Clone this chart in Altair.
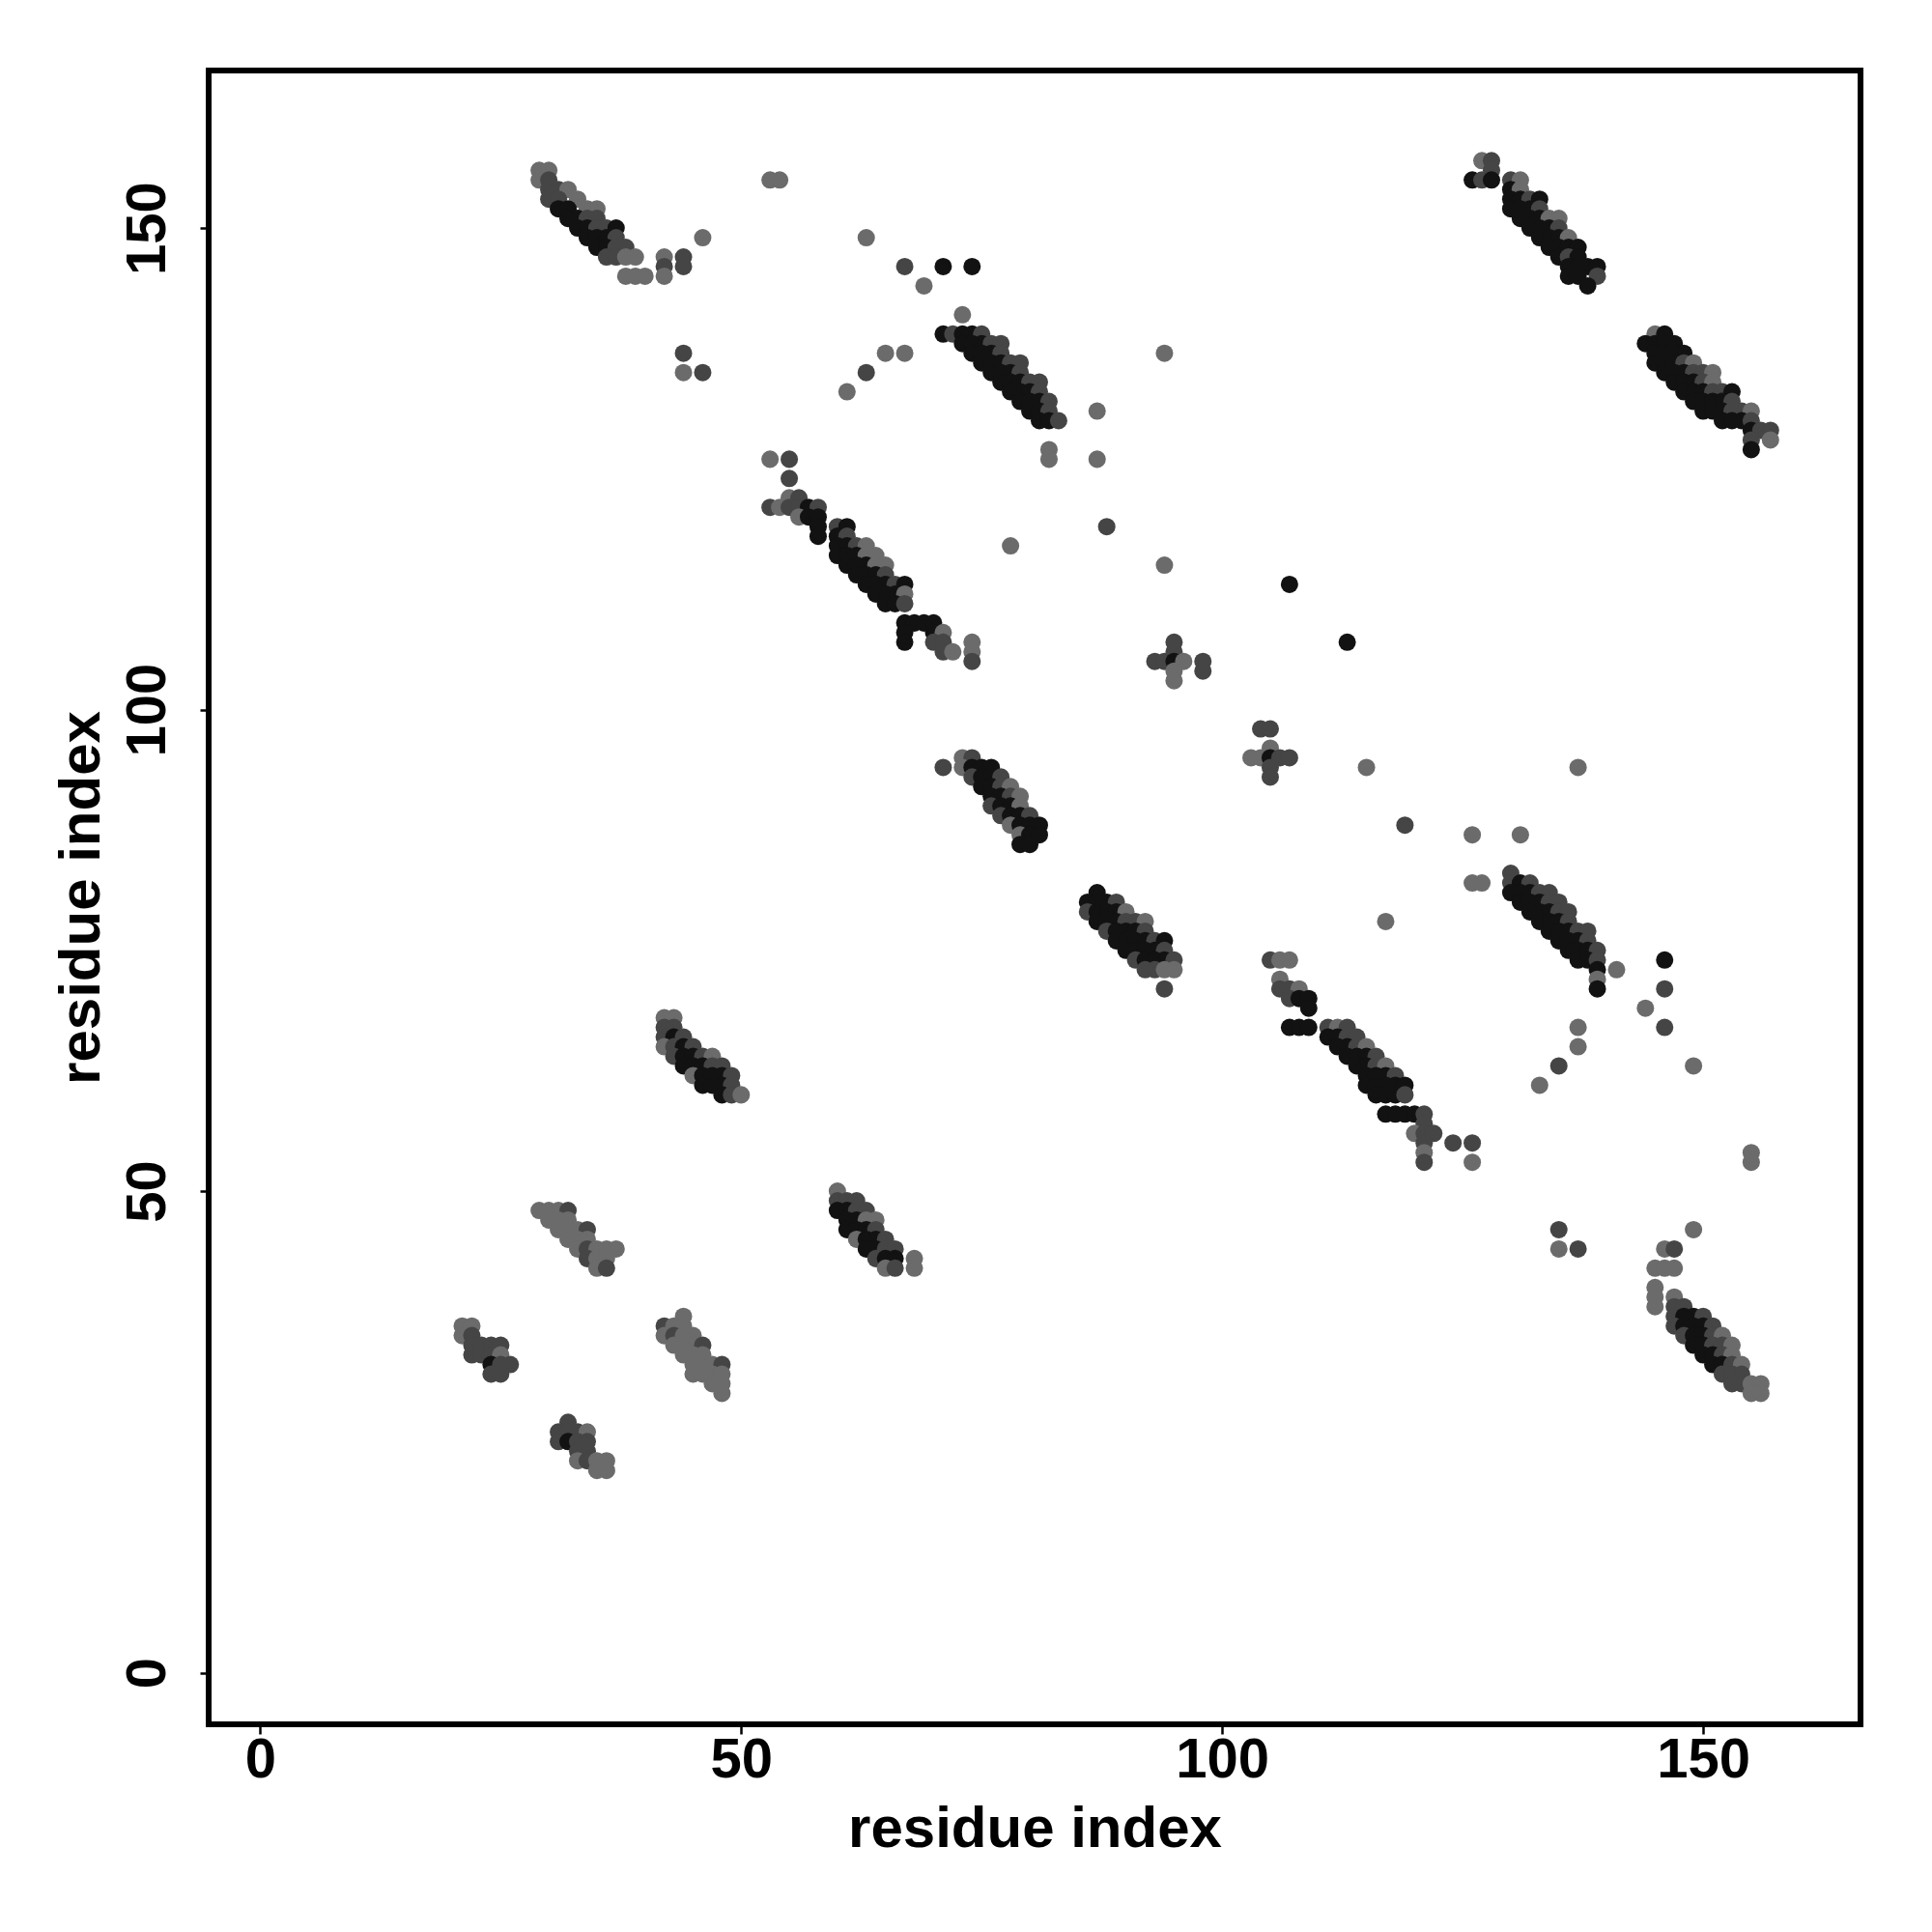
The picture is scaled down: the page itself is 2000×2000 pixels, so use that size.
import altair as alt
import pandas as pd

# contact levels: "low" (grey), "mid" (dark grey), "high" (black)
g, d, k = "low", "mid", "high"

strand_a = [
    (29,156,g),(30,156,g),(29,155,g),(30,155,d),
    (30,154,d),(31,154,d),(32,154,g),
    (30,153,d),(31,153,d),(33,153,g),
    (31,152,k),(32,152,k),(34,152,g),(35,152,g),
    (32,151,k),(33,151,k),(34,151,d),(35,151,d),
    (33,150,k),(34,150,k),(35,150,d),(36,150,d),(37,150,k),
    (34,149,k),(35,149,k),(36,149,k),(37,149,d),
    (35,148,k),(36,148,k),(37,148,d),(38,148,d),
    (36,147,d),(37,147,d),(38,147,g),(39,147,g),
    (38,145,g),(39,145,g),(40,145,g),
    (42,147,g),(42,146,d),(42,145,g),(44,147,d),(44,146,d),(46,149,g),
]

strand_b = [
    (73,141,g),
    (71,139,k),(72,139,d),(73,139,k),(74,139,k),(75,139,d),
    (73,138,k),(74,138,k),(75,138,k),(76,138,d),(77,138,d),
    (74,137,k),(75,137,k),(76,137,k),(77,137,d),
    (75,136,k),(76,136,k),(77,136,k),(78,136,d),(79,136,d),
    (76,135,k),(77,135,k),(78,135,k),(79,135,d),
    (77,134,k),(78,134,k),(79,134,k),(80,134,d),(81,134,d),
    (78,133,k),(79,133,k),(80,133,k),(81,133,d),
    (79,132,k),(80,132,k),(81,132,k),(82,132,d),
    (80,131,k),(81,131,k),(82,131,d),
    (81,130,k),(82,130,k),(83,130,d),
]

strand_c = [
    (53,126,g),(55,126,d),(55,124,d),
    (55,122,g),(56,122,d),
    (53,121,d),(54,121,g),(55,121,d),(56,121,d),(57,121,k),(58,121,d),
    (56,120,g),(57,120,k),(58,120,k),
    (58,119,k),(60,119,d),(61,119,k),
    (58,118,k),(60,118,k),(61,118,d),
    (60,117,k),(61,117,k),(62,117,d),(63,117,g),
    (60,116,k),(61,116,k),(62,116,k),(63,116,g),(64,116,g),
    (61,115,k),(62,115,k),(63,115,k),(64,115,g),(65,115,g),
    (62,114,k),(63,114,k),(64,114,k),(65,114,d),
    (63,113,k),(64,113,k),(65,113,k),(66,113,d),(67,113,k),
    (64,112,k),(65,112,k),(66,112,k),(67,112,g),
    (65,111,k),(66,111,k),(67,111,d),
    (67,109,k),(68,109,k),(69,109,k),(70,109,k),
    (67,108,k),(70,108,k),(71,108,g),
    (67,107,k),(70,107,d),(71,107,d),(74,107,g),
    (71,106,d),(72,106,g),(74,106,g),(74,105,d),
]

strand_d = [
    (71,94,d),
    (73,95,g),(74,95,d),
    (73,94,g),(74,94,k),(75,94,k),(76,94,k),
    (74,93,d),(75,93,k),(76,93,k),(77,93,d),
    (75,92,k),(76,92,k),(77,92,d),(78,92,g),
    (76,91,k),(77,91,k),(78,91,d),(79,91,g),
    (76,90,d),(77,90,k),(78,90,k),(79,90,g),
    (77,89,d),(78,89,k),(79,89,k),(80,89,d),
    (78,88,g),(79,88,k),(80,88,k),(81,88,k),
    (79,87,g),(80,87,k),(81,87,k),
    (79,86,k),(80,86,k),
]

strand_e = [
    (87,81,k),
    (86,80,k),(87,80,k),(88,80,k),(89,80,d),
    (86,79,d),(87,79,k),(88,79,k),(89,79,k),(90,79,g),
    (87,78,k),(88,78,k),(89,78,k),(90,78,d),(91,78,d),(92,78,g),
    (88,77,d),(89,77,k),(90,77,k),(91,77,k),(92,77,d),
    (89,76,k),(90,76,k),(91,76,k),(92,76,k),(93,76,d),(94,76,k),
    (90,75,k),(91,75,k),(92,75,k),(93,75,k),(94,75,d),
    (91,74,d),(92,74,k),(93,74,k),(94,74,k),(95,74,d),
    (92,73,d),(93,73,d),(94,73,g),(95,73,g),
    (94,71,d),
]

crosses = [
    (95,107,d),(95,106,d),(93,105,d),(94,105,d),(95,105,k),(96,105,g),
    (98,105,d),(98,104,d),(95,104,g),(95,103,g),
    (104,98,d),(105,98,d),(103,95,g),(104,95,g),(105,96,g),(105,95,k),
    (106,95,d),(107,95,d),(105,94,d),(105,93,d),
]

strand_f = [
    (105,74,d),(106,74,g),(107,74,g),
    (106,72,g),
    (106,71,d),(107,71,d),(108,71,g),
    (107,70,d),(108,70,k),(109,70,k),
    (109,69,k),
    (107,67,k),(108,67,k),(109,67,k),(111,67,d),(112,67,g),(113,67,d),
    (111,66,k),(112,66,k),(113,66,d),(114,66,d),
    (112,65,k),(113,65,k),(114,65,d),(115,65,g),
    (113,64,k),(114,64,k),(115,64,k),(116,64,d),
    (114,63,k),(115,63,k),(116,63,d),(117,63,g),
    (115,62,k),(116,62,k),(117,62,k),(118,62,d),
    (115,61,k),(116,61,k),(117,61,k),(118,61,k),(119,61,k),
    (116,60,k),(117,60,k),(118,60,k),(119,60,d),
    (117,58,k),(118,58,k),(119,58,k),(120,58,k),(121,58,d),
    (121,57,d),
    (120,56,g),(121,56,d),(122,56,d),
    (121,55,d),(124,55,d),(126,55,d),
    (121,54,g),
    (121,53,d),(126,53,g),
]

strand_g = [
    (130,83,d),
    (130,82,d),(131,82,k),(132,82,d),
    (130,81,k),(131,81,k),(132,81,k),(133,81,d),(134,81,d),
    (131,80,k),(132,80,k),(133,80,k),(134,80,d),(135,80,d),
    (132,79,k),(133,79,k),(134,79,k),(135,79,d),(136,79,d),
    (133,78,k),(134,78,k),(135,78,k),(136,78,d),
    (134,77,k),(135,77,k),(136,77,k),(137,77,d),(138,77,d),
    (135,76,k),(136,76,k),(137,76,k),(138,76,d),
    (136,75,k),(137,75,k),(138,75,k),(139,75,d),
    (137,74,k),(138,74,k),(139,74,d),
    (139,73,k),(141,73,g),
    (139,72,g),
    (139,71,k),
]

strand_h = [
    (146,44,g),(147,44,d),
    (145,42,g),(146,42,g),(147,42,g),
    (145,40,g),
    (145,39,g),(147,39,g),
    (145,38,g),(147,38,d),(148,38,d),
    (147,37,d),(148,37,k),(149,37,k),(150,37,d),
    (147,36,d),(148,36,k),(149,36,k),(150,36,k),(151,36,d),
    (148,35,d),(149,35,k),(150,35,k),(151,35,d),(152,35,g),
    (149,34,k),(150,34,k),(151,34,d),(152,34,d),(153,34,g),
    (150,33,k),(151,33,k),(152,33,d),(153,33,g),
    (151,32,k),(152,32,k),(153,32,d),(154,32,g),
    (152,31,d),(153,31,d),(154,31,d),
    (153,30,d),(154,30,d),(155,30,g),(156,30,g),
    (155,29,g),(156,29,g),
]

cluster_i = [
    (29,48,g),(30,48,g),(31,48,g),(32,48,d),
    (30,47,g),(31,47,g),(32,47,g),
    (31,46,g),(32,46,g),(33,46,g),(34,46,d),
    (32,45,g),(33,45,g),(34,45,g),
    (33,44,g),(34,44,d),(35,44,g),(36,44,g),(37,44,g),
    (34,43,d),(35,43,g),(36,43,g),
    (35,42,g),(36,42,d),
]

cluster_j = [
    (21,36,g),(22,36,g),
    (21,35,g),(22,35,d),
    (22,34,d),(23,34,d),(24,34,d),(25,34,d),
    (22,33,d),(23,33,d),(24,33,d),(25,33,g),
    (24,32,k),(25,32,d),(26,32,d),
    (24,31,d),(25,31,d),
]

cluster_k = [
    (44,37,g),
    (42,36,d),(43,36,g),(44,36,g),
    (42,35,g),(43,35,d),(44,35,g),(45,35,g),
    (43,34,g),(44,34,g),(45,34,g),(46,34,d),
    (44,33,g),(45,33,g),(46,33,g),
    (45,32,g),(46,32,g),(47,32,g),(48,32,d),
    (45,31,g),(46,31,g),(47,31,g),(48,31,g),
    (47,30,g),(48,30,g),
    (48,29,g),
]

cluster_l = [
    (32,26,d),
    (31,25,d),(32,25,d),(33,25,d),(34,25,g),
    (31,24,d),(32,24,k),(33,24,d),(34,24,d),
    (33,23,d),(34,23,d),
    (33,22,g),(34,22,d),(35,22,g),(36,22,g),
    (35,21,g),(36,21,g),
]

strand_m = [
    (42,68,g),(43,68,g),
    (42,67,d),(43,67,d),
    (42,66,d),(43,66,k),(44,66,d),
    (42,65,g),(43,65,d),(44,65,k),(45,65,d),
    (43,64,d),(44,64,k),(45,64,k),(46,64,d),(47,64,g),
    (44,63,k),(45,63,k),(46,63,k),(47,63,d),(48,63,d),
    (45,62,g),(46,62,k),(47,62,k),(48,62,k),(49,62,d),
    (46,61,k),(47,61,k),(48,61,k),(49,61,d),
    (48,60,k),(49,60,d),(50,60,g),
]

strand_n = [
    (60,50,g),
    (60,49,d),(61,49,d),(62,49,d),
    (60,48,k),(61,48,k),(62,48,d),(63,48,d),
    (61,47,k),(62,47,k),(63,47,g),(64,47,g),
    (61,46,k),(62,46,k),(63,46,k),(64,46,d),
    (62,45,g),(63,45,k),(64,45,k),(65,45,d),
    (63,44,k),(64,44,k),(65,44,d),(66,44,d),
    (64,43,d),(65,43,k),(66,43,k),(68,43,g),
    (65,42,g),(66,42,d),(68,42,g),
]

strand_p = [
    (127,157,g),(128,157,d),
    (128,156,d),
    (126,155,k),(127,155,d),(128,155,k),(130,155,d),(131,155,g),
    (130,154,k),(131,154,g),
    (130,153,k),(131,153,k),(132,153,d),(133,153,k),
    (130,152,k),(131,152,k),(132,152,k),(133,152,d),
    (131,151,k),(132,151,k),(133,151,k),(134,151,g),(135,151,g),
    (132,150,k),(133,150,k),(134,150,k),(135,150,d),
    (133,149,k),(134,149,k),(135,149,k),(136,149,g),
    (134,148,k),(135,148,k),(136,148,k),(137,148,k),
    (135,147,k),(136,147,d),(137,147,k),
    (136,146,k),(137,146,k),(138,146,k),(139,146,k),
    (136,145,k),(137,145,k),(139,145,d),
    (138,144,k),
]

strand_q = [
    (145,139,g),(146,139,k),
    (144,138,k),(145,138,k),(146,138,k),(147,138,k),
    (145,137,k),(146,137,k),(147,137,k),(148,137,k),
    (145,136,k),(146,136,k),(147,136,k),(148,136,d),(149,136,g),
    (146,135,k),(147,135,k),(148,135,k),(149,135,d),(150,135,d),(151,135,g),
    (147,134,k),(148,134,k),(149,134,k),(150,134,d),(151,134,g),
    (148,133,k),(149,133,k),(150,133,k),(151,133,d),(152,133,d),(153,133,k),
    (149,132,k),(150,132,k),(151,132,k),(152,132,k),(153,132,d),
    (150,131,k),(151,131,k),(152,131,k),(153,131,d),(154,131,d),(155,131,g),
    (152,130,k),(153,130,k),(154,130,k),(155,130,d),
    (155,129,k),(156,129,d),(157,129,d),
    (155,128,d),(157,128,g),
    (155,127,k),
]

isolated = [
    (53,155,g),(54,155,g),(63,149,g),
    (67,146,d),(71,146,k),(74,146,k),(69,144,g),
    (65,137,g),(67,137,g),(44,137,d),(44,135,g),(46,135,d),
    (63,135,d),(61,133,g),(87,131,g),(82,127,g),(82,126,g),(87,126,g),
    (94,137,g),(88,119,d),(78,117,g),(94,115,g),(107,113,k),(113,107,k),
    (115,94,g),(137,94,g),(119,88,d),(126,87,g),(131,87,g),
    (126,82,g),(127,82,g),(117,78,g),(146,74,k),(146,71,d),
    (144,69,g),(146,67,d),(137,67,g),(137,65,g),(135,63,d),(133,61,g),
    (149,63,g),(155,54,g),(155,53,g),(135,46,d),(135,44,g),(137,44,d),
    (149,46,g),
]

rows = (strand_a + strand_b + strand_c + strand_d + strand_e + crosses +
        strand_f + strand_g + strand_h + cluster_i + cluster_j + cluster_k +
        cluster_l + strand_m + strand_n + strand_p + strand_q + isolated)
df = pd.DataFrame(rows, columns=["i", "j", "level"])

tick_values = [0, 50, 100, 150]
dom = [-5.36, 166.36]
font = "Liberation Sans"

x_axis = alt.Axis(
    values=tick_values, title="residue index", grid=False, domain=False,
    tickSize=10, tickWidth=2.5, tickColor="black",
    labelFont=font, labelFontSize=58, labelFontWeight="bold", labelColor="black",
    labelBaseline="alphabetic", labelPadding=44, labelFlush=False,
    titleFont=font, titleFontSize=60, titleFontWeight="bold", titleColor="black",
    titleBaseline="alphabetic", titleY=126, titleX=855,
)
y_axis = alt.Axis(
    values=tick_values, title="residue index", grid=False, domain=False,
    tickSize=9, tickWidth=2.5, tickColor="black",
    labelFont=font, labelFontSize=58, labelFontWeight="bold", labelColor="black",
    labelAngle=-90, labelAlign="center", labelBaseline="alphabetic",
    labelPadding=37, labelFlush=False,
    titleFont=font, titleFontSize=60, titleFontWeight="bold", titleColor="black",
    titleAngle=-90, titleBaseline="alphabetic", titleAlign="center",
    titleX=-114, titleY=856,
)

chart = alt.Chart(df).mark_circle(size=325, opacity=1).encode(
    x=alt.X("i:Q", scale=alt.Scale(domain=dom, nice=False, zero=False), axis=x_axis),
    y=alt.Y("j:Q", scale=alt.Scale(domain=dom, nice=False, zero=False), axis=y_axis),
    color=alt.Color("level:N", legend=None,
                    scale=alt.Scale(domain=["low", "mid", "high"],
                                    range=["#6b6b6b", "#454545", "#121212"])),
).properties(
    width=1710, height=1712,
    padding={"left": 208, "top": 65, "right": 60, "bottom": 150},
    autosize=alt.AutoSizeParams(type="none"),
    background="white",
).configure_view(stroke="black", strokeWidth=6, fill="white")

chart.save("out.html", embed_options={"renderer": "svg", "actions": False})
